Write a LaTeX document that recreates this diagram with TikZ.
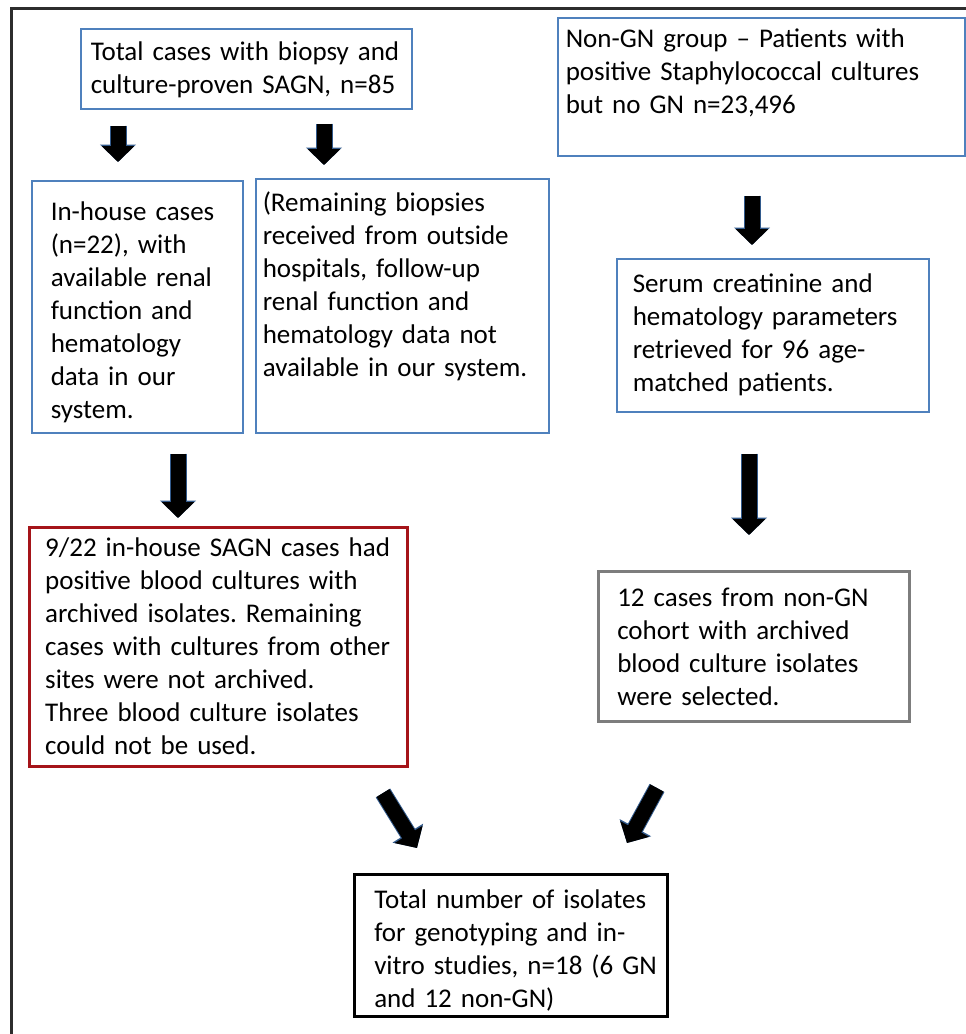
\documentclass[tikz,border=0pt]{standalone}
\usepackage{fontspec}
\setmainfont{Carlito}
\usetikzlibrary{arrows.meta, calc}

\definecolor{boxblue}{RGB}{79,129,189}
\definecolor{boxred}{RGB}{165,20,25}
\definecolor{boxgray}{RGB}{125,125,125}
\definecolor{framegray}{RGB}{45,45,45}
\definecolor{arrowedge}{RGB}{50,90,140}

\tikzset{
	box/.style={draw=boxblue, line width=1.5pt, anchor=north west, align=left,
		inner xsep=0pt, inner ysep=8pt, font=\fontsize{27}{33}\selectfont},
	textindent/.style={execute at begin node={\frenchspacing\leftskip=#1}},
	blockarrow/.style={line width=15pt, -{Triangle[width=32pt,length=16pt]},
		preaction={draw=arrowedge, line width=17pt, -{Triangle[width=35pt,length=17.5pt]}}}
}

\begin{document}
\begin{tikzpicture}[x=1pt, y=-1pt]
	\useasboundingbox (0,0) rectangle (966,1034);
	\draw [framegray, line width=3pt] (11.5,1040) |- (970,8.5);
	% GN side
	\node (sagn) [box, text width=331pt, textindent=10pt, text height=24pt, text depth=40pt] at (80,28)
		{Total cases with biopsy and\\culture-proven SAGN, n=85};
	\node (inhouse) [box, text width=211pt, textindent=19pt, text height=32pt, text depth=204pt] at (31,180)
		{In-house cases\\(n=22), with\\available renal\\function and\\hematology\\data in our\\system.};
	\node (outside) [box, text width=293pt, textindent=7pt, text height=25pt, text depth=213pt] at (255,178)
		{(Remaining biopsies\\received from outside\\hospitals, follow-up\\renal function and\\hematology data not\\available in our system.};
	\node (isolgn) [box, draw=boxred, line width=2.5pt, text width=378pt, textindent=16pt, text height=21pt,
		text depth=202pt] at (28,526)
		{9/22 in-house SAGN cases had\\positive blood cultures with\\archived isolates. Remaining\\cases with cultures from other\\sites were not archived.\\Three blood culture isolates\\could not be used.};
	% non-GN side
	\node (nongn) [box, text width=407pt, textindent=8pt, text height=22pt, text depth=100pt] at (557,17)
		{Non-GN group -- Patients with\\positive Staphylococcal cultures\\but no GN n=23,496};
	\node (serum) [box, text width=312pt, textindent=16pt, text height=26pt, text depth=111pt] at (616,258)
		{Serum creatinine and\\hematology parameters\\retrieved for 96 age-\\matched patients.};
	\node (isolnon) [box, draw=boxgray, line width=2.5pt, text width=311pt, textindent=19pt, text height=27pt,
		text depth=107pt] at (597,570)
		{12 cases from non-GN\\cohort with archived\\blood culture isolates\\were selected.};
	% final
	\node (final) [box, draw=black, line width=2.5pt, text width=313pt, textindent=20pt, text height=26pt,
		text depth=100pt] at (353,873)
		{Total number of isolates\\for genotyping and in-\\vitro studies, n=18 (6 GN\\and 12 non-GN)};

	\draw [blockarrow, shorten <=16pt, shorten >=18pt] (118,0 |- sagn.south) -- (118,0 |- inhouse.north);
	\draw [blockarrow, shorten <=14pt, shorten >=13pt] (324,0 |- sagn.south) -- (324,0 |- outside.north);
	\draw [blockarrow, shorten <=20pt, shorten >=8pt] (178,0 |- inhouse.south) -- (178,0 |- isolgn.north);
	\draw [blockarrow, shorten <=39pt, shorten >=13pt] (752,0 |- nongn.south) -- (752,0 |- serum.north);
	\draw [blockarrow, shorten <=41pt, shorten >=35pt] (749,0 |- serum.south) -- (749,0 |- isolnon.north);
	\coordinate (gnfrom) at (383,793);
	\coordinate (gnto) at (417,848);
	\coordinate (nonfrom) at (657,788);
	\coordinate (nonto) at (627,843);
	\draw [blockarrow] (gnfrom) -- (gnto);
	\draw [blockarrow] (nonfrom) -- (nonto);
\end{tikzpicture}
\end{document}
